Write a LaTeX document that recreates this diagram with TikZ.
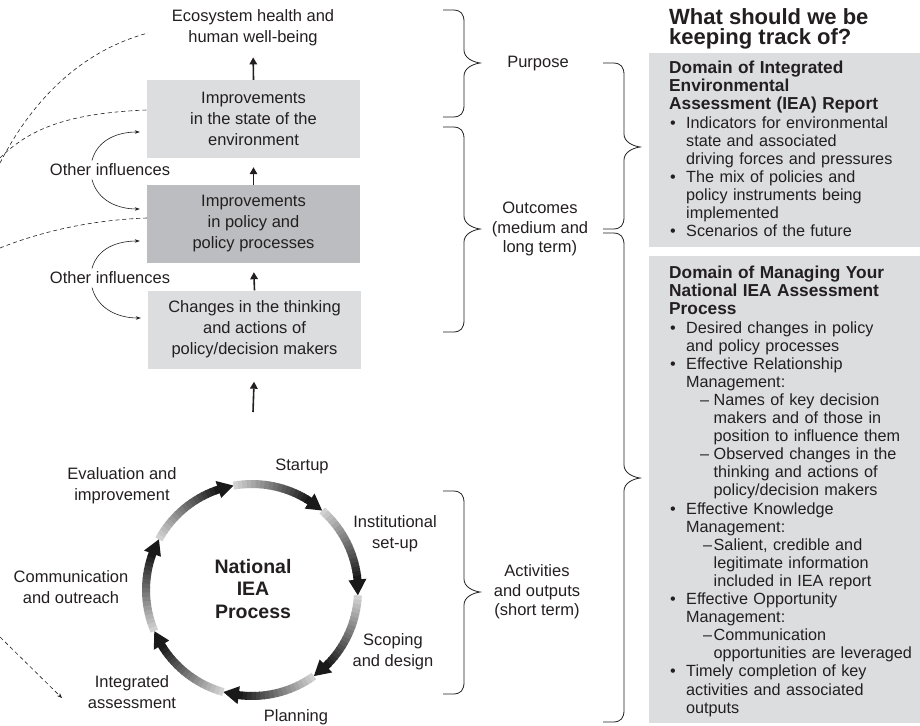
\documentclass[tikz,border=0pt]{standalone}
\usepackage{fontspec}
\setmainfont{Liberation Sans}
\usetikzlibrary{arrows.meta}

\definecolor{inkgray}{HTML}{231F20}
\definecolor{panelgray}{HTML}{DCDDDF}
\definecolor{policygray}{HTML}{BCBDC0}

\newcommand{\basefont}{\fontsize{16.5}{21}\selectfont}
\newcommand{\panelfont}{\fontsize{16.2}{18.1}\selectfont}
% bullet and dash items of the right panels
\newcommand{\pitem}[1]{\par\hangindent=17pt\hangafter=1\noindent\hspace*{1pt}\makebox[16pt][l]{•}#1}
\newcommand{\psub}[3][31pt]{\par\hangindent=44.5pt\hangafter=1\noindent\hspace*{#1}\makebox[#2][l]{–}#3}
% curly brace: x, top, bottom, tip
\newcommand{\sidebrace}[4]{%
  \draw[bracestyle] (#1,#2) -- (#1+10,#2) .. controls (#1+18,#2) and (#1+21,#2+4) .. (#1+21,#2+12)
    -- (#1+21,#4-13) .. controls (#1+21,#4-5) and (#1+30,#4-1) .. (#1+37,#4)
    .. controls (#1+30,#4+1) and (#1+21,#4+5) .. (#1+21,#4+13)
    -- (#1+21,#3-12) .. controls (#1+21,#3-4) and (#1+18,#3) .. (#1+10,#3) -- (#1,#3);}

\tikzset{
  boxlight/.style={fill=panelgray, minimum width=213pt, minimum height=78pt, align=center, font=\basefont},
  boxdark/.style={boxlight, fill=policygray},
  lbl/.style={align=center, font=\basefont},
  uparrow/.style={draw=inkgray, line width=1.6pt, -{Triangle[length=7pt,width=7.5pt]}},
  inflarrow/.style={draw=inkgray, line width=0.6pt, -{Stealth[length=5pt,width=3.5pt]}},
  dashline/.style={draw=inkgray, line width=0.6pt, dash pattern=on 4pt off 3pt},
  bracestyle/.style={draw=inkgray, line width=0.8pt},
  paneltext/.style={anchor=north west, inner sep=0pt, text width=262pt, align=left, font=\panelfont}
}

\begin{document}
\begin{tikzpicture}[x=1pt, y=-1pt, every node/.style={text=inkgray}]
  \useasboundingbox (0,0) rectangle (920,725);

  % results chain
  \node[lbl, inner sep=0pt] (eco) at (253,28) {Ecosystem health and\\human well-being};
  \node[boxlight] (imp) at (253.5,119) {Improvements\\in the state of the\\environment};
  \node[boxdark] (pol) at (253.5,224) {Improvements\\in policy and\\policy processes};
  \node[boxlight] (chg) at (254.5,329.5) {Changes in the thinking\\and actions of\\policy/decision makers};
  \coordinate (cyctop) at (253,412);

  \draw[uparrow, shorten >=11pt] (imp.north) -- (eco.south);
  \draw[uparrow, shorten >=9pt] (pol.north) -- (imp.south);
  \draw[uparrow, shorten >=9pt] (chg.north) -- (pol.south);
  \draw[uparrow, shorten >=13pt] (cyctop) -- (chg.south);

  % other influences
  \node[lbl] (oiA) at (110,170) {Other influences};
  \node[lbl] (oiB) at (110,278) {Other influences};
  \draw[inflarrow] ([xshift=-18pt]oiA.north) to[out=75,in=180] ([shift={(-7pt,-13pt)}]imp.west);
  \draw[inflarrow] ([xshift=-18pt]oiA.south) to[out=-75,in=180] ([shift={(-7pt,15pt)}]pol.west);
  \draw[inflarrow] ([xshift=-18pt]oiB.north) to[out=75,in=180] ([shift={(-7pt,-17pt)}]pol.west);
  \draw[inflarrow] ([xshift=-18pt]oiB.south) to[out=-75,in=180] ([shift={(-7pt,11.5pt)}]chg.west);

  % dashed feedback lines
  \coordinate (dA) at (0,163);
  \coordinate (dAend) at (148,33);
  \coordinate (dB) at (0,158);
  \coordinate (dC) at (0,248);
  \coordinate (dD) at (0,637);
  \coordinate (dDend) at (62,698);
  \draw[dashline] (dA) .. controls (35,95) and (85,50) .. (dAend);
  \draw[dashline] (dB) .. controls (30,128) and (70,113) .. ([yshift=9pt]imp.west);
  \draw[dashline] (dC) .. controls (40,232) and (90,220) .. ([yshift=6pt]pol.west);
  \draw[dashline, -{Stealth[length=5pt,width=4pt]}] (dD) -- (dDend);

  % IEA cycle
  \begin{scope}[shift={(252,590)}, yscale=-1]
    \foreach \k in {0,...,6}{
      \pgfmathsetmacro{\tipang}{100-51.4286*\k}
      \pgfmathsetmacro{\baseang}{\tipang+8.5}
      \foreach \j in {0,...,17}{
        \pgfmathsetmacro{\sa}{\tipang+51.4286-2.4*\j}
        \pgfmathsetmacro{\ea}{\sa-2.8}
        \pgfmathsetmacro{\shade}{18+72*\j/17}
        \draw[line width=8pt, draw=black!\shade] (\sa:106) arc (\sa:\ea:106);
      }
      \fill[black!90] (\tipang:106) -- (\baseang:115) -- (\baseang:97) -- cycle;
    }
  \end{scope}
  \node[align=center, font={\bfseries\fontsize{19.5}{22.5}\selectfont}] (iea) at (253,589) {National\\IEA\\Process};
  \node[lbl] (startup) at (302,466) {Startup};
  \node[lbl] (instsetup) at (395,534) {Institutional\\set-up};
  \node[lbl] (scoping) at (393,652) {Scoping\\and design};
  \node[lbl] (planning) at (296,717) {Planning};
  \node[lbl] (integ) at (132,692) {Integrated\\assessment};
  \node[lbl] (commout) at (71,587) {Communication\\and outreach};
  \node[lbl] (evalimp) at (122,486) {Evaluation and\\improvement};

  % result levels
  \sidebrace{443}{10}{117}{63}
  \sidebrace{443}{127}{332}{229}
  \sidebrace{443}{491}{694}{592}
  \node[lbl] (purpose) at (538,64) {Purpose};
  \node[lbl, font={\fontsize{16.5}{19.7}\selectfont}] (outcomes) at (540,229) {Outcomes\\(medium and\\long term)};
  \node[lbl, font={\fontsize{16.5}{19.7}\selectfont}] (activities) at (537,592) {Activities\\and outputs\\(short term)};
  \sidebrace{603}{63}{229}{147}
  \sidebrace{603}{233}{722}{478}

  % what to keep track of
  \node[anchor=north west, inner sep=0pt, align=left, font={\bfseries\fontsize{22}{20}\selectfont}] (track) at (669,8.5) {What should we be\\keeping track of?};
  \fill[panelgray] (649,53) rectangle (920,247);
  \fill[panelgray] (649,256) rectangle (920,723);
  \node[paneltext] (report) at (669,61) {\noindent{\bfseries\fontsize{17.3}{18.1}\selectfont Domain of Integrated\newline Environmental\newline Assessment (IEA) Report}
    \pitem{Indicators for environmental\newline state and associated\newline driving forces and pressures}
    \pitem{The mix of policies and\newline policy instruments being\newline implemented}
    \pitem{Scenarios of the future}\par};
  \node[paneltext] (managing) at (669,266) {\noindent{\bfseries\fontsize{17.3}{18.1}\selectfont Domain of Managing Your\newline National IEA Assessment\newline Process}
    \pitem{Desired changes in policy\newline and policy processes}
    \pitem{Effective Relationship\newline Management:}
    \psub{13.5pt}{Names of key decision\newline makers and of those in\newline position to influence them}
    \psub{13.5pt}{Observed changes in the\newline thinking and actions of\newline policy/decision makers}
    \pitem{Effective Knowledge\newline Management:}
    \psub[34pt]{10.5pt}{Salient, credible and\newline legitimate information\newline included in IEA report}
    \pitem{Effective Opportunity\newline Management:}
    \psub[34pt]{10.5pt}{Communication\newline opportunities are leveraged}
    \pitem{Timely completion of key\newline activities and associated\newline outputs}\par};
\end{tikzpicture}
\end{document}
